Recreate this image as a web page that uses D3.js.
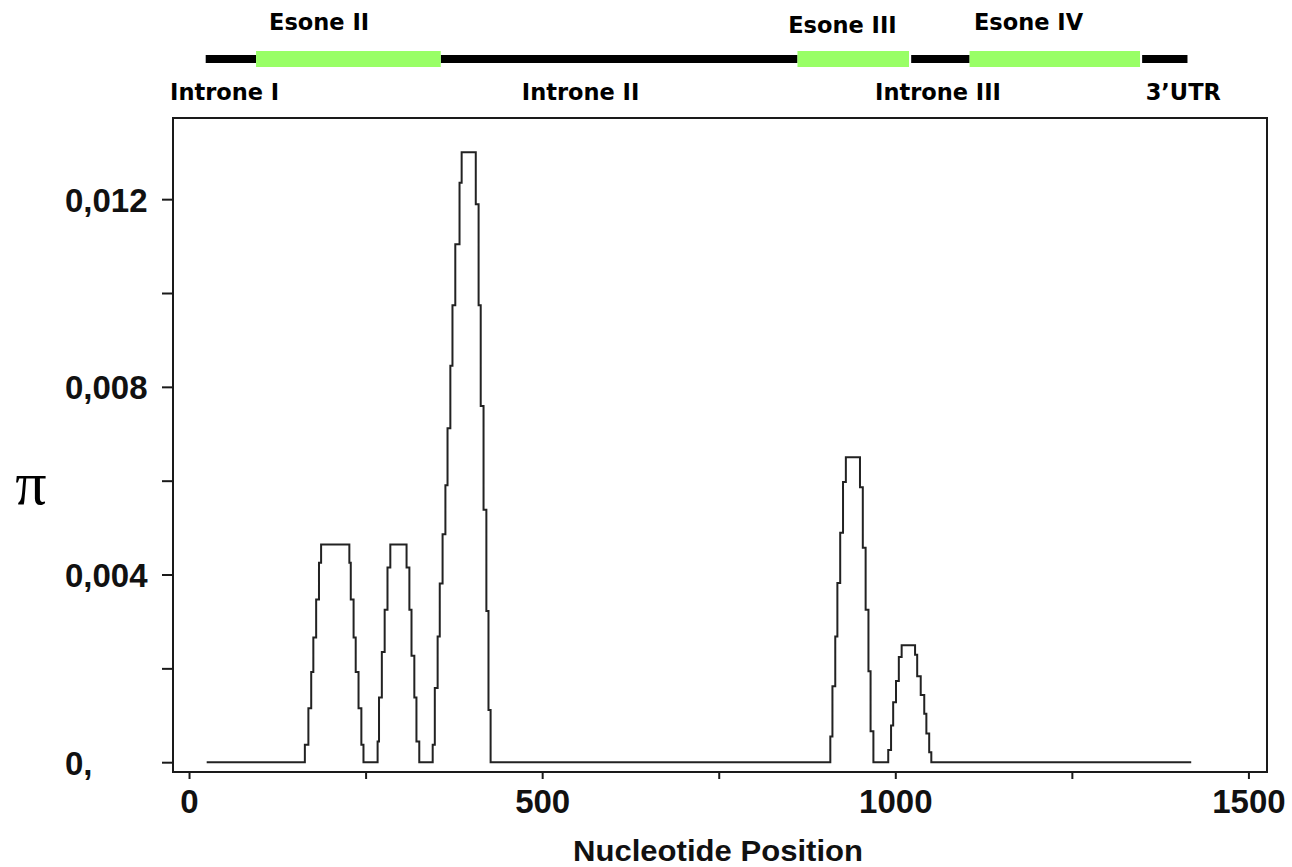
<!DOCTYPE html>
<html>
<head>
<meta charset="utf-8">
<script src="https://cdn.jsdelivr.net/npm/d3@7.9.0/dist/d3.min.js"></script>
<style>
  html, body { margin: 0; padding: 0; background: #fff; }
  .tick-lbl { font-family: "Liberation Sans", Arial, sans-serif; font-weight: bold; font-size: 33px; fill: #111; }
  .gene-lbl { font-family: "DejaVu Sans", Verdana, sans-serif; font-weight: bold; font-size: 22.5px; fill: #000; }
</style>
</head>
<body>
<div id="chart"></div>
<script>
// Sliding window: window start positions (nt) and pi value (step holds until next position)
const positions = [25, 164, 169, 173, 176, 180, 184, 187, 227, 229, 233, 236, 240, 244, 247,
  267, 269, 273, 277, 281, 285, 308, 312, 315, 319, 322, 326,
  345, 348, 352, 355, 359, 363, 366, 370, 373, 377, 383, 386, 406, 410, 413, 417, 421, 424, 427,
  908, 911, 915, 918, 922, 926, 930, 950, 954, 958, 962, 965, 969,
  990, 994, 997, 1001, 1005, 1009, 1028, 1031, 1036, 1041, 1044, 1048, 1051, 1419];
const piValues = [0, 0.00037, 0.00115, 0.00192, 0.00266, 0.00347, 0.00425, 0.00464, 0.00425, 0.00347, 0.00266, 0.00192, 0.00115, 0.00037, 0,
  0.00044, 0.00138, 0.00235, 0.00325, 0.00415, 0.00464, 0.00415, 0.00325, 0.00227, 0.00138, 0.00044, 0,
  0.00037, 0.00158, 0.00268, 0.00381, 0.00486, 0.00590, 0.00712, 0.00845, 0.00974, 0.01104, 0.01235, 0.01300, 0.01189, 0.00974, 0.00759, 0.00538, 0.00322, 0.00111, 0,
  0.00055, 0.00162, 0.00268, 0.00382, 0.00489, 0.00597, 0.00650, 0.00586, 0.00457, 0.00325, 0.00194, 0.00066, 0,
  0.00026, 0.00078, 0.00128, 0.00173, 0.00224, 0.00249, 0.00229, 0.00183, 0.00143, 0.00103, 0.00061, 0.00021, 0, 0];

// Tick labels
const xTickValues = [0, 250, 500, 750, 1000, 1250, 1500];
const xTickLabels = ["0", "", "500", "", "1000", "", "1500"];
const yTickValues = [0, 0.002, 0.004, 0.006, 0.008, 0.010, 0.012];
const yTickLabels = ["0,", "", "0,004", "", "0,008", "", "0,012"];

// Gene structure (nt)
const intronSegments = [[23.6, 94.9], [356.4, 861.5], [1022.5, 1105.2], [1349.5, 1413.7]];
const exonSegments = [[94.9, 356.4], [861.5, 1019.4], [1105.2, 1346.5]];
const exonNames = ["Esone II", "Esone III", "Esone IV"];
const exonLabelPos = [113.3, 848.4, 1111.4];
const regionNames = ["Introne I", "Introne II", "Introne III", "3\u2019UTR"];
const regionLabelPos = [-26.9, 471.2, 971.3, 1354.5];

const WIDTH = 1292, HEIGHT = 867;
const frame = { left: 173, right: 1267, top: 118, bottom: 772 };

const svg = d3.select("#chart").append("svg")
  .attr("width", WIDTH)
  .attr("height", HEIGHT);

svg.append("rect").attr("width", WIDTH).attr("height", HEIGHT).attr("fill", "#fff");

const x = d3.scaleLinear().domain([-22.7, 1526.3]).range([frame.left, frame.right]);
const y = d3.scaleLinear().domain([-0.000209, 0.01373]).range([frame.bottom, frame.top]);

// frame box
svg.append("rect")
  .attr("x", frame.left).attr("y", frame.top)
  .attr("width", frame.right - frame.left)
  .attr("height", frame.bottom - frame.top)
  .attr("fill", "none").attr("stroke", "#1a1a1a").attr("stroke-width", 2);

// y axis, labels are left aligned
const yAxis = svg.append("g")
  .attr("transform", `translate(${frame.left},0)`)
  .call(d3.axisLeft(y).tickValues(yTickValues).tickSize(11)
    .tickFormat((d, i) => yTickLabels[i]));
yAxis.select(".domain").remove();
yAxis.selectAll(".tick line").attr("stroke", "#1a1a1a").attr("stroke-width", 2);
yAxis.selectAll(".tick text")
  .attr("class", "tick-lbl")
  .attr("text-anchor", "start")
  .attr("x", 65 - frame.left)
  .attr("dy", "0.36em");

// x axis
const xAxis = svg.append("g")
  .attr("transform", `translate(0,${frame.bottom})`)
  .call(d3.axisBottom(x).tickValues(xTickValues).tickSize(7)
    .tickFormat((d, i) => xTickLabels[i]));
xAxis.select(".domain").remove();
xAxis.selectAll(".tick line").attr("stroke", "#1a1a1a").attr("stroke-width", 2);
xAxis.selectAll(".tick text")
  .attr("class", "tick-lbl")
  .attr("y", 41).attr("dy", null);

// axis titles
svg.append("text")
  .attr("x", 718).attr("y", 861)
  .attr("text-anchor", "middle")
  .attr("textLength", 290).attr("lengthAdjust", "spacingAndGlyphs")
  .style("font-family", "Liberation Sans, Arial, sans-serif")
  .style("font-weight", "bold").style("font-size", "30px").attr("fill", "#111")
  .text("Nucleotide Position");

svg.append("text")
  .attr("x", 31).attr("y", 504)
  .attr("text-anchor", "middle")
  .style("font-family", "Liberation Serif, Times New Roman, serif")
  .style("font-size", "62px").attr("fill", "#000")
  .text("\u03C0");

// pi step line
const series = positions.map((p, i) => ({ pos: p, pi: piValues[i] }));
const line = d3.line().x(d => x(d.pos)).y(d => y(d.pi)).curve(d3.curveStepAfter);
svg.append("path")
  .datum(series)
  .attr("d", line)
  .attr("fill", "none")
  .attr("stroke", "#222")
  .attr("stroke-width", 2);

// gene map on top
const geneY = 59;
svg.selectAll("line.intron")
  .data(intronSegments)
  .join("line")
  .attr("class", "intron")
  .attr("x1", d => x(d[0])).attr("x2", d => x(d[1]))
  .attr("y1", geneY).attr("y2", geneY)
  .attr("stroke", "#000").attr("stroke-width", 8);

svg.selectAll("rect.exon")
  .data(exonSegments)
  .join("rect")
  .attr("class", "exon")
  .attr("x", d => x(d[0])).attr("width", d => x(d[1]) - x(d[0]))
  .attr("y", geneY - 8).attr("height", 16)
  .attr("fill", "#99ff66");

svg.selectAll("text.exon-lbl")
  .data(exonNames)
  .join("text")
  .attr("class", "gene-lbl exon-lbl")
  .attr("x", (d, i) => x(exonLabelPos[i]))
  .attr("y", (d, i) => i === 1 ? 33 : 30)
  .text(d => d);

svg.selectAll("text.region-lbl")
  .data(regionNames)
  .join("text")
  .attr("class", "gene-lbl region-lbl")
  .attr("x", (d, i) => x(regionLabelPos[i]))
  .attr("y", 100)
  .text(d => d);
</script>
</body>
</html>
